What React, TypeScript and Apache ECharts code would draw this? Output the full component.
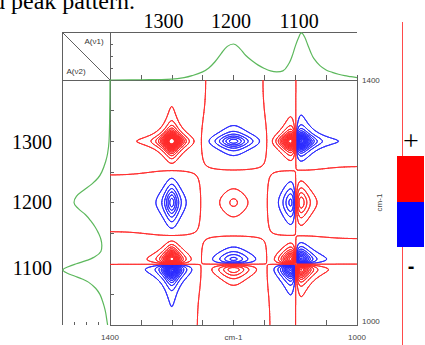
import React, { useEffect, useRef } from "react";
import * as echarts from "echarts";

// ---- 1D reference spectrum (read from the top / left panels) ----
const spectrumWavenumbers = [1400, 1350, 1300, 1280, 1267, 1250, 1240, 1230, 1220, 1210, 1200, 1190, 1180, 1170, 1160, 1150, 1140, 1130, 1120, 1110, 1105, 1100, 1095, 1090, 1085, 1080, 1075, 1070, 1060, 1050, 1040, 1030, 1020, 1010, 1000];
const spectrumAbsorbance = [0.0, 0.005, 0.02, 0.05, 0.09, 0.17, 0.25, 0.38, 0.55, 0.7, 0.75, 0.66, 0.51, 0.4, 0.31, 0.24, 0.19, 0.17, 0.19, 0.35, 0.5, 0.7, 0.87, 0.98, 0.9, 0.74, 0.58, 0.45, 0.3, 0.21, 0.16, 0.12, 0.09, 0.07, 0.05];

// ---- perturbation-induced band changes behind the synchronous map ----
const bandCenters = [1300, 1200, 1099, 1200];
const bandHalfWidths = [10.5, 23, 15, 200];
const bandChangeTypes = ["intensity", "intensity", "shift", "baseline"];
const bandChangeAmounts = [1.0, -0.345, 0.68, 0.03];

// ---- contour levels (fraction of the map maximum) ----
const positiveLevels = [0.05, 0.1, 0.15, 0.2, 0.25, 0.3, 0.35, 0.4, 0.45, 0.5, 0.55, 0.6, 0.65, 0.7, 0.75, 0.8, 0.85];
const negativeLevels = [-0.05, -0.1, -0.15, -0.2, -0.25, -0.3, -0.35, -0.4, -0.45, -0.5, -0.55, -0.6, -0.65, -0.7, -0.75, -0.8, -0.85];
const nearZeroLevels = [-0.001];

// ---- texts ----
const topPeakLabels = ["1300", "1200", "1100"];
const sidePeakLabels = ["1300", "1200", "1100"];
const edgeTickValues = [1400, 1000];
const axisUnit = "cm-1";

const RED = "#ff2a2a";
const BLUE = "#2a2aff";
const GREEN = "#5cb85c";
const FRAME = "#606060";
const SERIF = '"Liberation Serif", "DejaVu Serif", serif';
const SANS = '"Liberation Sans", "DejaVu Sans", sans-serif';

function bandChange(nu: number): number {
  let s = 0;
  for (let k = 0; k < bandCenters.length; k++) {
    const u = (nu - bandCenters[k]) / bandHalfWidths[k];
    const t = bandChangeTypes[k];
    if (t === "intensity") s += bandChangeAmounts[k] / (1 + u * u);
    else if (t === "shift") s += (bandChangeAmounts[k] * (2 * u)) / ((1 + u * u) * (1 + u * u)) / 0.6495;
    else s += bandChangeAmounts[k] * u;
  }
  return s;
}

function computeContours(levels: number[]) {
  const lo = 1000, hi = 1400, step = 1;
  const xs: number[] = [];
  for (let v = lo; v <= hi + 1e-9; v += step) xs.push(v);
  const n = xs.length;
  const D = xs.map(bandChange);
  let m = 0;
  for (const v of D) m = Math.max(m, Math.abs(v));
  const f = new Float64Array(n * n);
  for (let i = 0; i < n; i++) for (let j = 0; j < n; j++) f[i * n + j] = (D[i] * D[j]) / (m * m);
  const segs: number[][] = levels.map(() => []);
  const cx = [0, 1, 1, 0];
  const cy = [0, 0, 1, 1];
  const vals = [0, 0, 0, 0];
  const ab = [false, false, false, false];
  const ex = [0, 0, 0, 0];
  const ey = [0, 0, 0, 0];
  const has = [false, false, false, false];
  for (let i = 0; i < n - 1; i++) {
    for (let j = 0; j < n - 1; j++) {
      vals[0] = f[i * n + j];
      vals[1] = f[(i + 1) * n + j];
      vals[2] = f[(i + 1) * n + j + 1];
      vals[3] = f[i * n + j + 1];
      const mn = Math.min(vals[0], vals[1], vals[2], vals[3]);
      const mx = Math.max(vals[0], vals[1], vals[2], vals[3]);
      for (let li = 0; li < levels.length; li++) {
        const L = levels[li];
        if (!(mn < L && mx >= L)) continue;
        let cnt = 0;
        for (let k = 0; k < 4; k++) ab[k] = vals[k] >= L;
        for (let k = 0; k < 4; k++) {
          const k2 = (k + 1) % 4;
          if (ab[k] !== ab[k2]) {
            const t = (L - vals[k]) / (vals[k2] - vals[k]);
            ex[k] = xs[i + cx[k]] + t * (xs[i + cx[k2]] - xs[i + cx[k]]);
            ey[k] = xs[j + cy[k]] + t * (xs[j + cy[k2]] - xs[j + cy[k]]);
            has[k] = true;
            cnt++;
          } else has[k] = false;
        }
        const out = segs[li];
        if (cnt === 2) {
          const idx: number[] = [];
          for (let k = 0; k < 4; k++) if (has[k]) idx.push(k);
          out.push(ex[idx[0]], ey[idx[0]], ex[idx[1]], ey[idx[1]]);
        } else if (cnt === 4) {
          const center = (vals[0] + vals[1] + vals[2] + vals[3]) / 4 >= L;
          for (let k = 0; k < 4; k++) {
            if (ab[k] !== center) {
              const e1 = (k + 3) % 4;
              out.push(ex[e1], ey[e1], ex[k], ey[k]);
            }
          }
        }
      }
    }
  }
  return segs;
}

export default function App() {
  const ref = useRef<HTMLDivElement>(null);
  useEffect(() => {
    if (!ref.current) return;
    const chart = echarts.init(ref.current, undefined, { renderer: "svg" });
    const levels = [...negativeLevels, ...nearZeroLevels, ...positiveLevels].sort((a, b) => a - b);
    const segs = computeContours(levels);
    const levelColor = (L: number) => (L > 0 || nearZeroLevels.includes(L) ? RED : BLUE);

    const topSpectrum = spectrumWavenumbers.map((w, i) => [w, spectrumAbsorbance[i]]);
    const sideSpectrum = spectrumWavenumbers.map((w, i) => [spectrumAbsorbance[i], w]);

    const tick = (len: number) => ({ show: true, inside: true, length: len, lineStyle: { color: FRAME, width: 1 } });
    const noLabel = { show: false };
    const noLine = { show: false };
    const noSplit = { show: false };

    const option: any = {
      animation: false,
      grid: [
        { left: 110, top: 80, width: 247, height: 245 },
        { left: 110, top: 32, width: 247, height: 48 },
        { left: 62, top: 80, width: 48, height: 245 },
      ],
      xAxis: [
        { gridIndex: 0, type: "value", min: 1000, max: 1400, interval: 50, inverse: true, position: "bottom", axisLine: noLine, axisTick: tick(5), axisLabel: noLabel, splitLine: noSplit },
        { gridIndex: 1, type: "value", min: 1000, max: 1400, interval: 50, inverse: true, position: "bottom", axisLine: noLine, axisTick: tick(5), axisLabel: noLabel, splitLine: noSplit },
        { gridIndex: 2, type: "value", min: 0, max: 1, interval: 0.25, inverse: true, position: "bottom", axisLine: noLine, axisTick: tick(3), axisLabel: noLabel, splitLine: noSplit },
      ],
      yAxis: [
        { gridIndex: 0, type: "value", min: 1000, max: 1400, interval: 50, position: "left", axisLine: noLine, axisTick: tick(4), axisLabel: noLabel, splitLine: noSplit },
        { gridIndex: 1, type: "value", min: 0, max: 1, interval: 0.25, position: "left", axisLine: noLine, axisTick: tick(3), axisLabel: noLabel, splitLine: noSplit },
        { gridIndex: 2, type: "value", min: 1000, max: 1400, interval: 50, position: "left", axisLine: noLine, axisTick: tick(3), axisLabel: noLabel, splitLine: noSplit },
      ],
      series: [
        {
          type: "custom", xAxisIndex: 0, yAxisIndex: 0, clip: true, silent: true,
          data: levels.map((_, i) => [1200, 1200, i]),
          encode: { x: 0, y: 1 },
          renderItem: (_params: any, api: any) => {
            const li = api.value(2) as number;
            const arr = segs[li];
            const parts: string[] = [];
            for (let k = 0; k < arr.length; k += 4) {
              const p = api.coord([arr[k], arr[k + 1]]);
              const q = api.coord([arr[k + 2], arr[k + 3]]);
              parts.push("M" + p[0].toFixed(1) + " " + p[1].toFixed(1) + "L" + q[0].toFixed(1) + " " + q[1].toFixed(1));
            }
            return {
              type: "path",
              shape: { pathData: parts.join("") || "M0 0" },
              style: { fill: "none", stroke: levelColor(levels[li]), lineWidth: 0.9, lineCap: "round" },
              silent: true,
            };
          },
        },
        { type: "line", xAxisIndex: 1, yAxisIndex: 1, data: topSpectrum, showSymbol: false, smooth: 0.4, lineStyle: { color: GREEN, width: 1.2 }, silent: true },
        { type: "line", xAxisIndex: 2, yAxisIndex: 2, data: sideSpectrum, showSymbol: false, smooth: 0.4, lineStyle: { color: GREEN, width: 1.2 }, silent: true },
      ],
    };
    chart.setOption(option);

    // positions of the edge tick labels, taken from the main axes
    const xPix = edgeTickValues.map((v) => chart.convertToPixel({ xAxisIndex: 0 }, v) as number);
    const yPix = edgeTickValues.map((v) => chart.convertToPixel({ yAxisIndex: 0 }, v) as number);
    const gridLeft = xPix[0], gridRight = xPix[1], gridTop = yPix[0], gridBottom = yPix[1];

    const hline = (x1: number, x2: number, y: number) => ({ type: "line", shape: { x1, y1: y, x2, y2: y }, style: { stroke: FRAME, lineWidth: 1 }, silent: true });
    const vline = (x: number, y1: number, y2: number, color = FRAME) => ({ type: "line", shape: { x1: x, y1, x2: x, y2 }, style: { stroke: color, lineWidth: 1 }, silent: true });
    const txt = (text: string, x: number, y: number, font: string, align = "center", color = "#000", rotation = 0) => ({
      type: "text", x, y, rotation, silent: true,
      style: { text, font, fill: color, align, verticalAlign: "middle" },
    });
    const small = "8px " + SANS;
    const topLabelX = [163.5, 231, 299];
    const sideLabelY = [142, 202, 268];

    chart.setOption({
      graphic: [
        hline(62, gridRight, 32.5),
        hline(62, gridRight, gridTop + 0.5),
        hline(gridLeft, gridRight + 1, gridBottom + 0.5),
        vline(62.5, 32, gridBottom),
        vline(gridLeft + 0.5, 32, gridBottom),
        vline(gridRight + 0.5, gridTop, gridBottom + 1),
        { type: "line", shape: { x1: 62, y1: 32, x2: gridLeft, y2: gridTop }, style: { stroke: FRAME, lineWidth: 1 }, silent: true },
        txt("A(ν1)", 94, 41, small, "center", "#333"),
        txt("A(ν2)", 76, 71, small, "center", "#333"),
        // bottom axis labels
        txt(String(edgeTickValues[0]), xPix[0], gridBottom + 12, small, "center", "#444"),
        txt(String(edgeTickValues[1]), xPix[1], gridBottom + 12, small, "center", "#444"),
        txt(axisUnit, (gridLeft + gridRight) / 2, gridBottom + 12, small, "center", "#444"),
        // right axis labels
        txt(String(edgeTickValues[0]), gridRight + 5, yPix[0], small, "left", "#444"),
        txt(String(edgeTickValues[1]), gridRight + 5, yPix[1] - 4, small, "left", "#444"),
        txt(axisUnit, gridRight + 22, (gridTop + gridBottom) / 2, small, "center", "#444", Math.PI / 2),
        // big serif texts
        txt("d peak pattern.", 135, 1, "24px " + SERIF, "right"),
        ...topPeakLabels.map((t, i) => txt(t, topLabelX[i], 21, "20px " + SERIF)),
        ...sidePeakLabels.map((t, i) => txt(t, 52, sideLabelY[i], "20px " + SERIF, "right")),
        // sign bar
        vline(402.5, 22, 156, "#ff4a4a"),
        vline(402.5, 247, 345, "#ff4a4a"),
        { type: "rect", shape: { x: 397, y: 156, width: 27, height: 46 }, style: { fill: "#ff0000" }, silent: true },
        { type: "rect", shape: { x: 397, y: 202, width: 27, height: 45 }, style: { fill: "#0000ff" }, silent: true },
        txt("+", 411, 140, "28px " + SERIF),
        txt("-", 411, 266, "bold 20px " + SANS),
      ],
    });
    return () => chart.dispose();
  }, []);
  return <div ref={ref} style={{ position: "absolute", left: 0, top: 0, width: 425, height: 345 }} />;
}
